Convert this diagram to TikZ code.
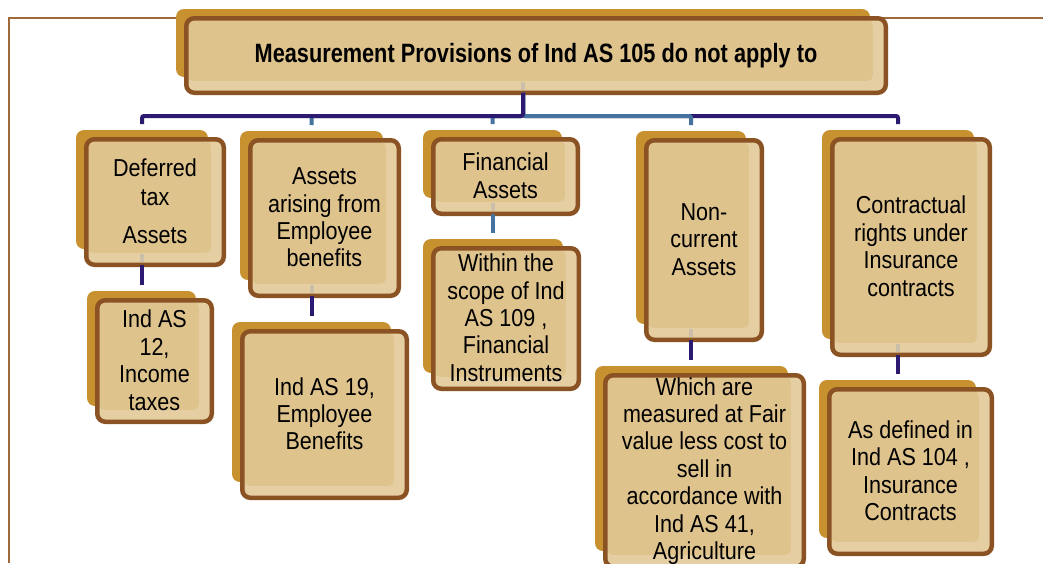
\documentclass[tikz,border=0pt]{standalone}
\usepackage{fontspec}
\setmainfont{Liberation Sans}[FakeStretch=0.88]
\newfontfamily\titlefont{Liberation Sans}[FakeStretch=0.82]
\usetikzlibrary{calc}
\definecolor{gold}{HTML}{C8912F}
\definecolor{boxlight}{HTML}{E5CEA2}
\definecolor{boxinner}{HTML}{DFC38D}
\definecolor{boxborder}{HTML}{8B5324}
\definecolor{navy}{HTML}{2B1A70}
\definecolor{steel}{HTML}{46729F}
\definecolor{stubgray}{HTML}{CBBFA9}
\definecolor{framebrown}{HTML}{A0693A}
\newcommand\ls{\rule[-1.9pt]{0pt}{19.5pt}}
\tikzset{
  shadowbox/.style={fill=gold, rounded corners=8pt, inner sep=0pt, outer sep=0pt},
  mainbox/.style={fill=boxlight, draw=boxborder, line width=4.5pt, rounded corners=8pt,
    inner sep=0pt, outer sep=0pt, align=center, text=black,
    font=\fontsize{24.5}{27.4}\selectfont,
    path picture={\fill[boxinner, rounded corners=5pt]
      ($(path picture bounding box.north west)+(2pt,-2pt)$) rectangle
      ($(path picture bounding box.south east)+(-13pt,12pt)$);}},
  conn/.style={line width=4pt, rounded corners=2pt},
  navyline/.style={conn, draw=navy},
  blueline/.style={conn, draw=steel},
  stub/.style={line width=4pt, draw=stubgray},
  frameline/.style={draw=framebrown, line width=1.2pt},
}
\newcommand\boxunit[6]{%
  \pgfmathsetmacro\sxc{(#2+#4-26)/2}%
  \pgfmathsetmacro\syc{(#3+#5-25)/2}%
  \pgfmathsetmacro\sww{#4-#2-10}%
  \pgfmathsetmacro\shh{#5-#3-11}%
  \pgfmathsetmacro\mxc{(#2+#4)/2}%
  \pgfmathsetmacro\myc{(#3+#5)/2}%
  \pgfmathsetmacro\mww{#4-#2-4.5}%
  \pgfmathsetmacro\mhh{#5-#3-4.5}%
  \node[shadowbox, minimum width=\sww pt, minimum height=\shh pt] (s#1) at (\sxc,\syc) {};
  \node[mainbox, minimum width=\mww pt, minimum height=\mhh pt] (b#1) at (\mxc,\myc) {#6};
}
\begin{document}
\begin{tikzpicture}[x=1pt,y=-1pt]
\useasboundingbox (0,0) rectangle (1043,563);
\clip (0,0) rectangle (1043,563);
\fill[white] (0,0) rectangle (1043,563);
\draw[frameline] (1043,18) -- (9,18) -- (9,563);

\boxunit{T}{184}{16}{888}{95}{\titlefont\bfseries\fontsize{26.5}{30}\selectfont\rule[-2pt]{0pt}{21pt}Measurement Provisions of Ind AS 105 do not apply to}
\boxunit{1}{84}{137}{226}{267}{\ls Deferred\\[1.7pt]tax\\[9.7pt]\ls Assets}
\boxunit{2}{248}{138}{401}{298}{\ls Assets\\arising from\\Employee\\\ls benefits}
\boxunit{3}{431}{137}{580}{216}{\ls Financial\\\ls Assets}
\boxunit{4}{644}{138}{764}{342}{\ls Non-\\current\\\ls Assets}
\boxunit{5}{830}{137}{992}{357}{\ls Contractual\\rights under\\Insurance\\\ls contracts}
\boxunit{6}{95}{298}{214}{424}{\ls Ind AS\\12,\\Income\\\ls taxes}
\boxunit{7}{240}{329}{409}{500}{\ls Ind AS 19,\\Employee\\\ls Benefits}
\boxunit{8}{431}{246}{581}{391}{\ls Within the\\scope of Ind\\AS 109 ,\\Financial\\\ls Instruments}
\boxunit{9}{603}{373}{806}{569}{\ls Which are\\measured at Fair\\value less cost to\\sell in\\accordance with\\Ind AS 41,\\\ls Agriculture}
\boxunit{10}{827}{387}{994}{556}{\ls As defined in\\Ind AS 104 ,\\Insurance\\\ls Contracts}

\coordinate (bus) at (523,116);
% level-1 connectors
\draw[navyline] (sT.south |- bT.south) -- (sT.south |- bus) -| ($(s5.north)+(0pt,6pt)$);
\draw[blueline] (sT.south |- bT.south) -- (sT.south |- bus) -| ($(s4.north)+(0pt,6pt)$);
\draw[blueline] (sT.south |- bT.south) -- (sT.south |- bus) -| ($(s3.north)+(0pt,6pt)$);
\draw[blueline] (sT.south |- bT.south) -- (sT.south |- bus) -| ($(s2.north)+(0pt,6pt)$);
\draw[navyline] (sT.south |- bT.south) -- (sT.south |- bus) -| ($(s1.north)+(0pt,6pt)$);
% level-2 connectors
\draw[navyline] (s1.south |- b1.south) -- ($(s1.south |- s6.north)+(0pt,6pt)$);
\draw[navyline] (s2.south |- b2.south) -- ($(s2.south |- s7.north)+(0pt,6pt)$);
\draw[blueline] (s3.south |- b3.south) -- ($(s3.south |- s8.north)+(0pt,6pt)$);
\draw[navyline] (s4.south |- b4.south) -- ($(s4.south |- s9.north)+(0pt,6pt)$);
\draw[navyline] (s5.south |- b5.south) -- ($(s5.south |- s10.north)+(0pt,6pt)$);
% connector stubs seen through the boxes
\foreach \k in {T,1,2,3,4,5}{
  \draw[stub] ($(s\k.south |- b\k.south)+(0pt,2.5pt)$) -- ++(0pt,8pt);
}
\end{tikzpicture}
\end{document}
